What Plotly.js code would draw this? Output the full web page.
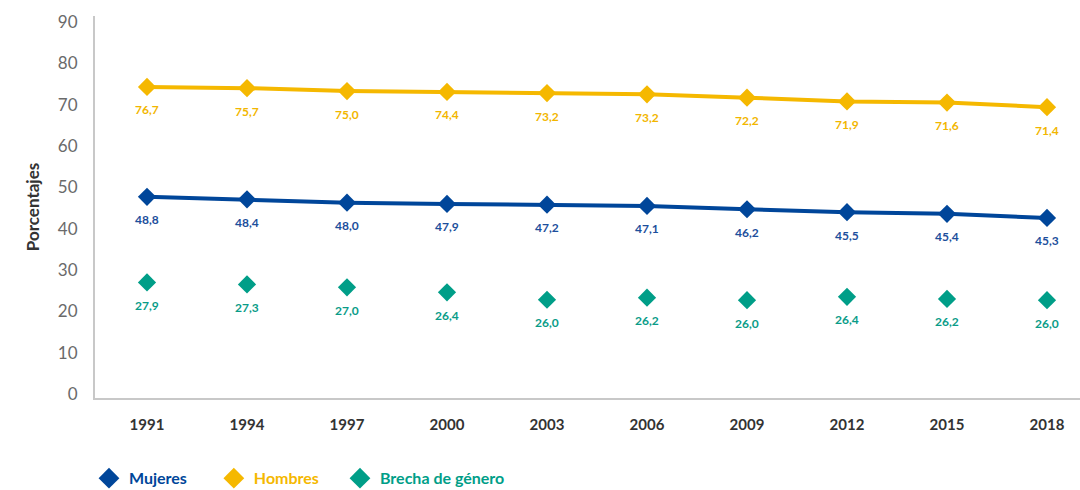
<!DOCTYPE html>
<html>
<head>
<meta charset="utf-8">
<script src="https://cdn.plot.ly/plotly-3.0.1.min.js"></script>
<style>html,body{margin:0;padding:0;background:#fff;}#chart{width:1080px;height:490px;}</style>
</head>
<body>
<div id="chart"></div>
<script>
const years = ['1991','1994','1997','2000','2003','2006','2009','2012','2015','2018'];
// Plotted marker positions
const hombresPos = [74.3, 74.0, 73.3, 73.1, 72.8, 72.5, 71.7, 70.8, 70.5, 69.4];
const mujeresPos = [47.7, 47.1, 46.3, 46.0, 45.8, 45.5, 44.7, 44.0, 43.6, 42.6];
const brechaPos  = [27.0, 26.5, 25.8, 24.6, 22.8, 23.3, 22.7, 23.5, 23.0, 22.7];
// Printed data labels
const hombresLbl = ['76,7','75,7','75,0','74,4','73,2','73,2','72,2','71,9','71,6','71,4'];
const mujeresLbl = ['48,8','48,4','48,0','47,9','47,2','47,1','46,2','45,5','45,4','45,3'];
const brechaLbl  = ['27,9','27,3','27,0','26,4','26,0','26,2','26,0','26,4','26,2','26,0'];
const seriesNames = ['Mujeres', 'Hombres', 'Brecha de género'];

const cM = '#00469A', cH = '#F5B800', cB = '#009E88';
const idx = years.map((_, i) => i);
const fontF = 'Lato, "Open Sans", sans-serif';
const colors = [cM, cH, cB];
const legendIds = ['legend', 'legend2', 'legend3'];
const legendX = [0.0824, 0.198, 0.3148];

const traces = [
  {x: idx, y: mujeresPos, mode: 'lines+markers', showlegend: false,
   line: {color: cM, width: 4}, marker: {symbol: 'diamond', size: 14, color: cM}},
  {x: idx, y: hombresPos, mode: 'lines+markers', showlegend: false,
   line: {color: cH, width: 4}, marker: {symbol: 'diamond', size: 14, color: cH}},
  {x: idx, y: brechaPos, mode: 'markers', showlegend: false,
   marker: {symbol: 'diamond', size: 14, color: cB}}
];
// legend entries (diamond only)
seriesNames.forEach((n, i) => traces.push({
  x: [null], y: [null], mode: 'markers', showlegend: true, legend: legendIds[i],
  name: '<span style="color:' + colors[i] + '">' + n + '</span>',
  marker: {symbol: 'diamond', size: 16, color: colors[i]}
}));

const annotations = [];
function addLabels(pos, lbl, color) {
  pos.forEach((v, i) => annotations.push({
    x: idx[i], y: v, text: lbl[i], showarrow: false, yshift: -23,
    font: {family: fontF, size: 12, color: color, weight: 'bold'}
  }));
}
addLabels(hombresPos, hombresLbl, '#F2B600');
addLabels(mujeresPos, mujeresLbl, '#1D4F9C');
addLabels(brechaPos, brechaLbl, '#0A9C88');

const layout = {
  width: 1080, height: 490,
  margin: {l: 95, r: 0, t: 16, b: 92},
  paper_bgcolor: '#fff', plot_bgcolor: '#fff',
  showlegend: true,
  xaxis: {
    range: [-0.52, 9.33], tickmode: 'array', tickvals: idx, ticktext: years,
    showgrid: false, zeroline: false, showline: true, linecolor: '#c8c8c8', linewidth: 2,
    ticks: '', ticklabelstandoff: 12,
    tickfont: {family: fontF, size: 15, color: '#333', weight: 'bold'}
  },
  yaxis: {
    range: [-0.97, 91.46], tickvals: [0,10,20,30,40,50,60,70,80,90],
    showgrid: false, zeroline: false, showline: true, linecolor: '#c8c8c8', linewidth: 2,
    ticks: '', ticklabelstandoff: 12,
    tickfont: {family: fontF, size: 17, color: '#6a6a6a'},
    title: {text: 'Porcentajes', standoff: 14, font: {family: fontF, size: 17, color: '#333', weight: 'bold'}}
  },
  annotations: annotations
};
legendIds.forEach((id, i) => {
  layout[id] = {orientation: 'h', xref: 'container', yref: 'container', x: legendX[i], y: 0.024,
    xanchor: 'left', yanchor: 'middle', bgcolor: 'rgba(0,0,0,0)',
    font: {family: fontF, size: 16, color: '#333', weight: 'bold'}};
});

Plotly.newPlot('chart', traces, layout, {displayModeBar: false, staticPlot: true});
</script>
</body>
</html>
